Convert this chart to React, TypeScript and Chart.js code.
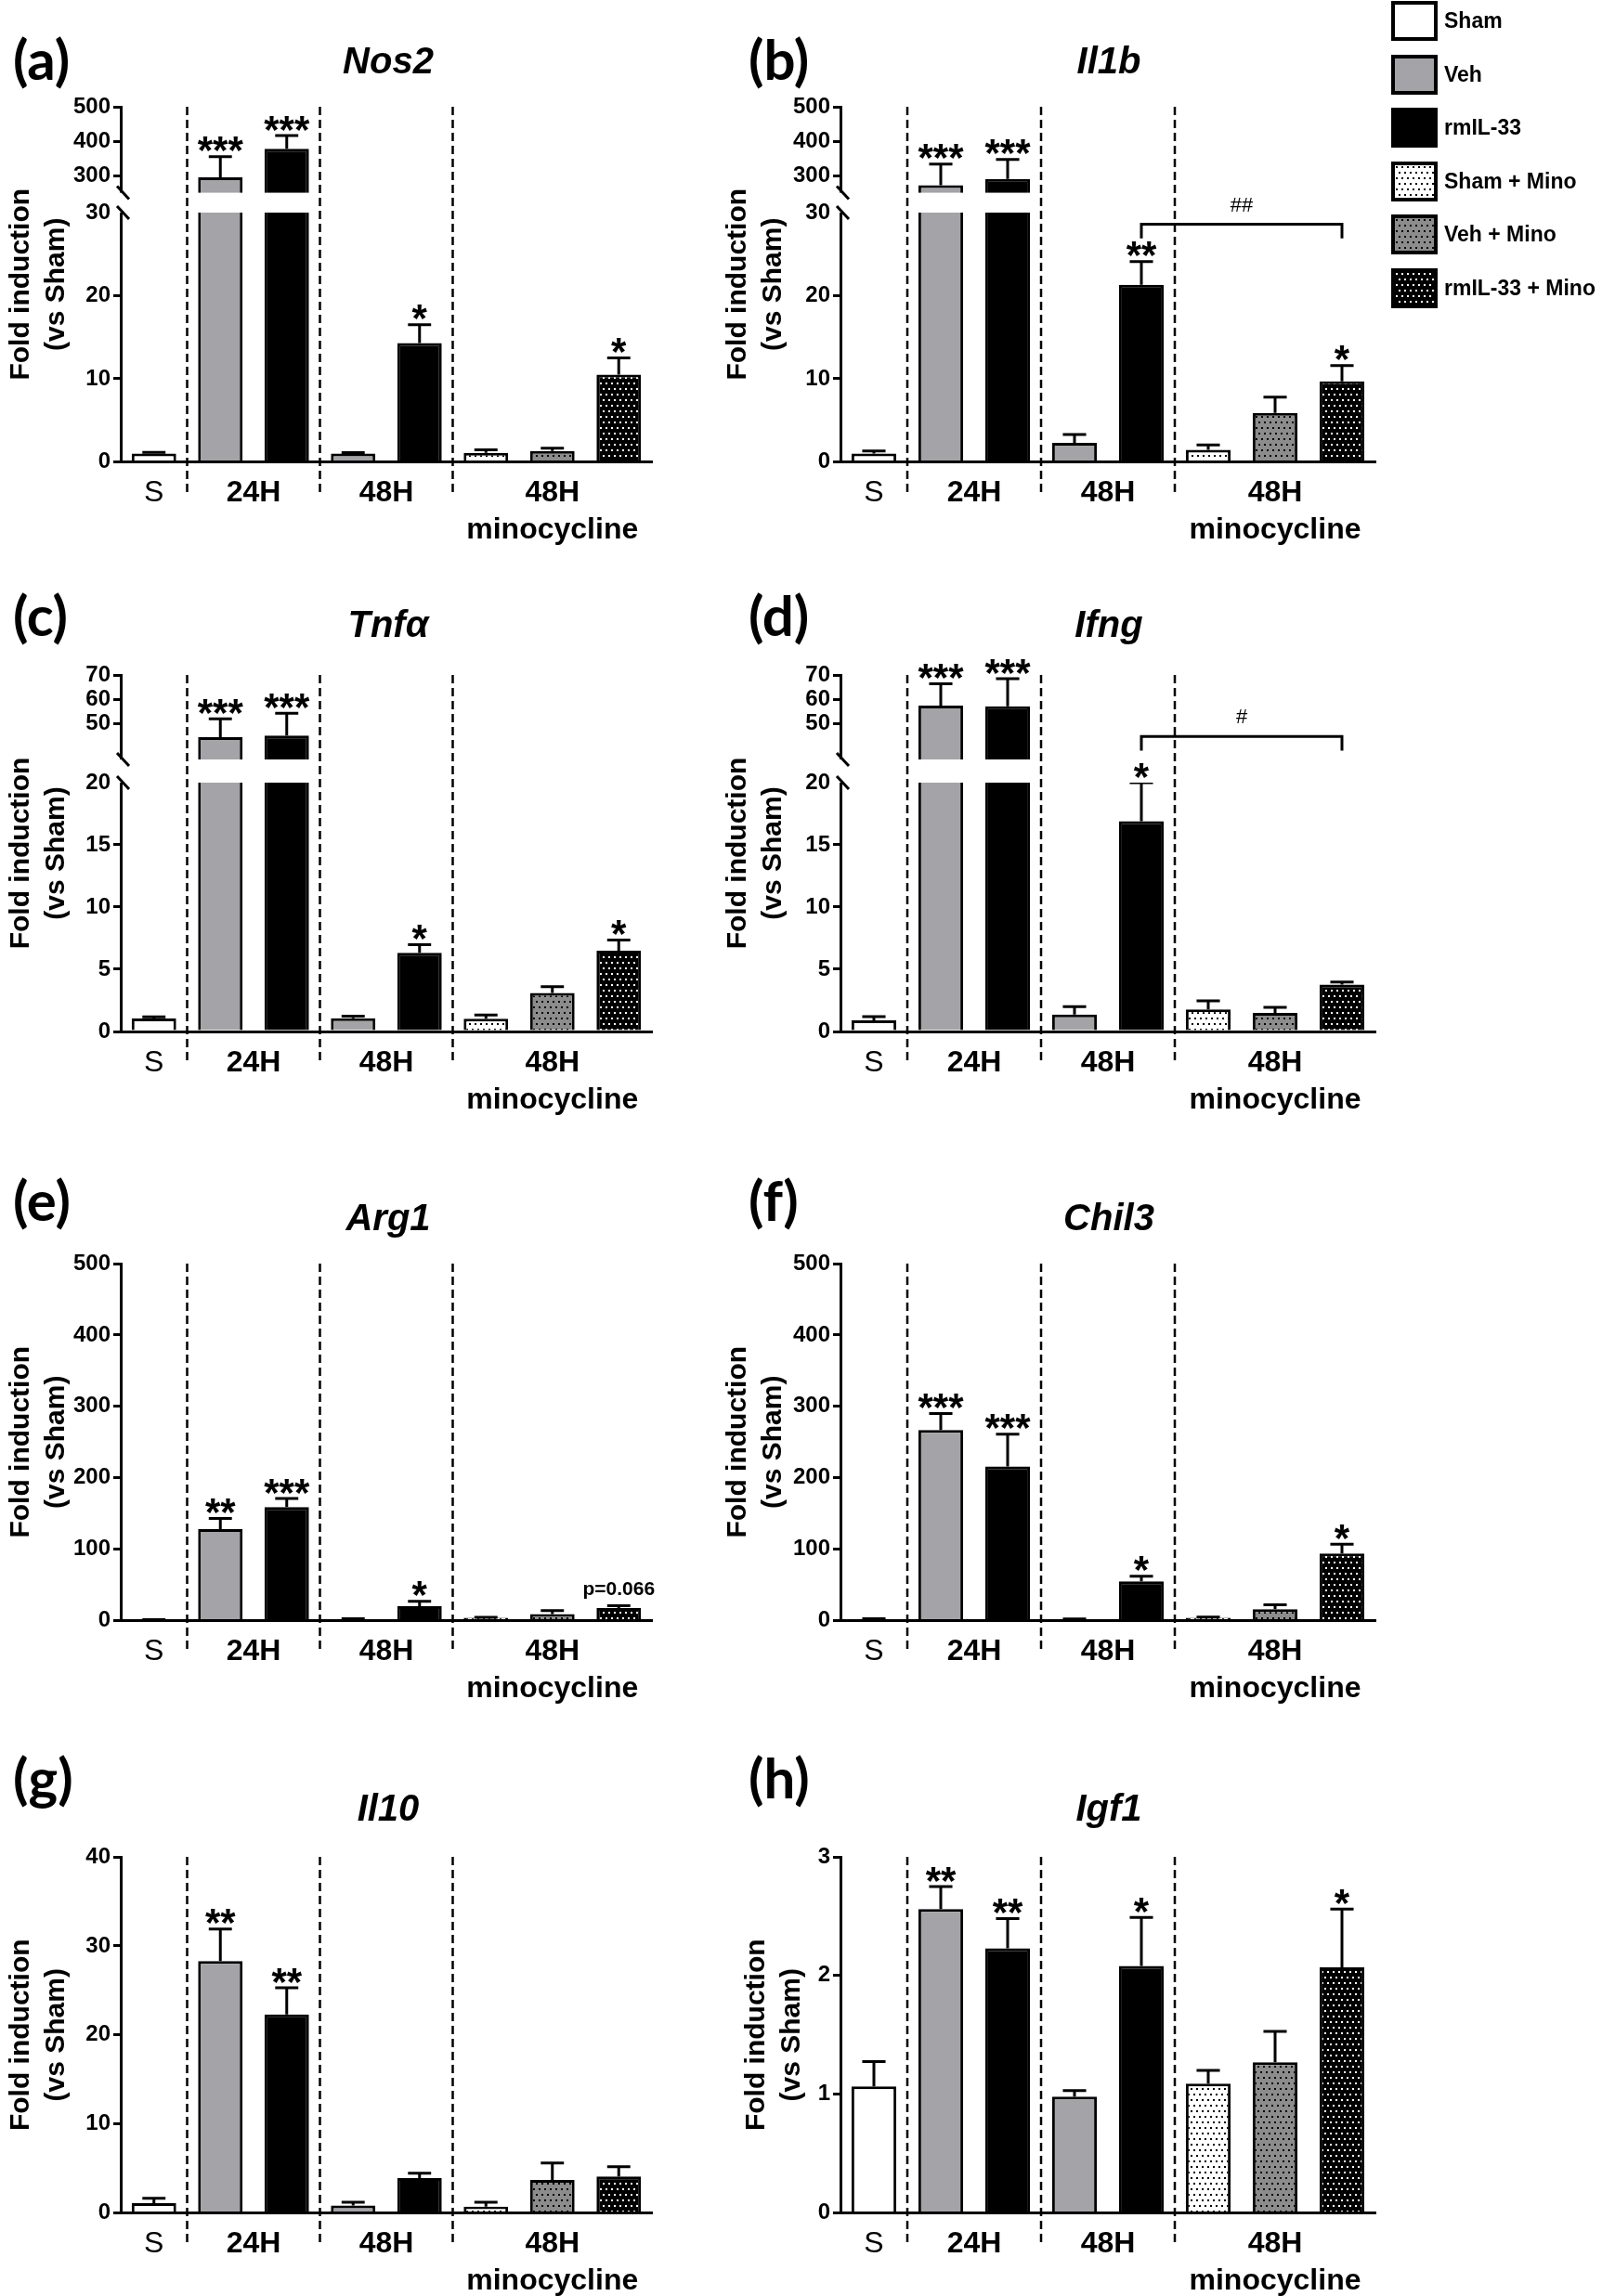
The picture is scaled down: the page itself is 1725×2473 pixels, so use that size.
import React, { useEffect, useRef } from 'react';
import { Chart, registerables, LinearScale } from 'chart.js';

Chart.register(...registerables);

const FONT = "'Liberation Sans', Arial, Helvetica, sans-serif";
Chart.defaults.font.family = FONT;
Chart.defaults.color = '#000';

// ---------------- data ----------------
const CATEGORIES = ['Sham', '24H Veh', '24H rmIL-33', '48H Veh', '48H rmIL-33', '48H Mino Sham', '48H Mino Veh', '48H Mino rmIL-33'];
const BAR_STYLE = [0, 1, 2, 1, 2, 3, 4, 5];
const LEGEND_LABELS = ['Sham', 'Veh', 'rmIL-33', 'Sham + Mino', 'Veh + Mino', 'rmIL-33 + Mino'];
const GROUP_TEXT = [['S'], ['24H'], ['48H'], ['48H', 'minocycline']];
const GROUP_FIRST = [0, 1, 3, 5];
const GROUP_LAST = [0, 2, 4, 7];
const SEPARATOR_AFTER = [0, 2, 4];
const Y_TITLE = ['Fold induction', '(vs Sham)'];

const nos2Mean = [1.0, 295, 378, 1.0, 14.3, 1.1, 1.3, 10.5];
const nos2Sem = [0.15, 60, 38, 0.12, 2.2, 0.35, 0.35, 2.0];
const nos2Sig = ['', '***', '***', '', '*', '', '', '*'];

const il1bMean = [1.0, 272, 290, 2.3, 21.3, 1.45, 5.9, 9.7];
const il1bSem = [0.3, 61, 57, 1.0, 2.8, 0.6, 1.9, 1.9];
const il1bSig = ['', '***', '***', '', '**', '', '', '*'];

const tnfMean = [1.05, 44.2, 44.9, 1.07, 6.33, 1.02, 3.1, 6.5];
const tnfSem = [0.13, 7.6, 9.2, 0.16, 0.65, 0.3, 0.5, 0.85];
const tnfSig = ['', '***', '***', '', '*', '', '', '*'];

const ifngMean = [0.9, 57.3, 57.0, 1.37, 16.9, 1.77, 1.49, 3.77];
const ifngSem = [0.3, 9, 11.5, 0.63, 3.1, 0.7, 0.45, 0.2];
const ifngSig = ['', '***', '***', '', '*', '', '', ''];

const arg1Mean = [1, 128, 159, 2, 20, 4, 9, 17.4];
const arg1Sem = [0.2, 15, 12, 0.5, 7, 0.5, 5, 3.5];
const arg1Sig = ['', '**', '***', '', '*', '', '', 'p=0.066'];

const chil3Mean = [2, 267, 216, 2, 55, 4, 16, 94];
const chil3Sem = [0.5, 23, 45, 0.3, 7, 1, 6, 13];
const chil3Sig = ['', '***', '***', '', '*', '', '', '*'];

const il10Mean = [1.1, 28.3, 22.3, 0.83, 3.9, 0.7, 3.7, 4.1];
const il10Sem = [0.55, 3.6, 3.0, 0.37, 0.55, 0.5, 1.9, 1.1];
const il10Sig = ['', '**', '**', '', '', '', '', ''];

const igf1Mean = [1.065, 2.56, 2.23, 0.98, 2.08, 1.09, 1.27, 2.07];
const igf1Sem = [0.21, 0.19, 0.25, 0.05, 0.41, 0.11, 0.26, 0.49];
const igf1Sig = ['', '**', '**', '', '*', '', '', '*'];

const ticksBroken500 = [0, 10, 20, 30, 300, 400, 500];
const ticksBroken70 = [0, 5, 10, 15, 20, 50, 60, 70];
const ticks500 = [0, 100, 200, 300, 400, 500];
const ticks40 = [0, 10, 20, 30, 40];
const ticks3 = [0, 1, 2, 3];

// break definitions (values of the two axis segments + share of the axis height)
const break500 = { lowMax: 30, highMin: 250, lowFrac: 0.702, gapFrac: 0.056 };
const break70 = { lowMax: 20, highMin: 35, lowFrac: 0.698, gapFrac: 0.065 };

// comparison brackets
const il1bBracket = { from: 4, to: 7, y: 28.6, drop: 26.9, text: '##' };
const ifngBracket = { from: 4, to: 7, y: 44.5, drop: 38.7, text: '#' };

type Brk = { lowMax: number; highMin: number; lowFrac: number; gapFrac: number };
type Bracket = { from: number; to: number; y: number; drop: number; text: string };
type Panel = {
  key: string; label: string; gene: string;
  mean: number[]; sem: number[]; sig: string[];
  ticks: number[]; max: number; brk: Brk | null; bracket?: Bracket;
  col: number; row: number; canvasLeft?: number;
};

const PANELS: Panel[] = [
  { key: 'a', label: '(a)', gene: 'Nos2', mean: nos2Mean, sem: nos2Sem, sig: nos2Sig, ticks: ticksBroken500, max: 500, brk: break500, col: 0, row: 0 },
  { key: 'b', label: '(b)', gene: 'Il1b', mean: il1bMean, sem: il1bSem, sig: il1bSig, ticks: ticksBroken500, max: 500, brk: break500, bracket: il1bBracket, col: 1, row: 0 },
  { key: 'c', label: '(c)', gene: 'Tnf\u03b1', mean: tnfMean, sem: tnfSem, sig: tnfSig, ticks: ticksBroken70, max: 70, brk: break70, col: 0, row: 1 },
  { key: 'd', label: '(d)', gene: 'Ifng', mean: ifngMean, sem: ifngSem, sig: ifngSig, ticks: ticksBroken70, max: 70, brk: break70, bracket: ifngBracket, col: 1, row: 1 },
  { key: 'e', label: '(e)', gene: 'Arg1', mean: arg1Mean, sem: arg1Sem, sig: arg1Sig, ticks: ticks500, max: 500, brk: null, col: 0, row: 2 },
  { key: 'f', label: '(f)', gene: 'Chil3', mean: chil3Mean, sem: chil3Sem, sig: chil3Sig, ticks: ticks500, max: 500, brk: null, col: 1, row: 2 },
  { key: 'g', label: '(g)', gene: 'Il10', mean: il10Mean, sem: il10Sem, sig: il10Sig, ticks: ticks40, max: 40, brk: null, col: 0, row: 3 },
  { key: 'h', label: '(h)', gene: 'Igf1', mean: igf1Mean, sem: igf1Sem, sig: igf1Sig, ticks: ticks3, max: 3, brk: null, col: 1, row: 3, canvasLeft: 792 },
];

// ---------------- layout ----------------
const COLS = [
  { canvasLeft: 0, axisX: 130, right: 702, labelX: 14, titleCX: 418 },
  { canvasLeft: 772, axisX: 905, right: 1481, labelX: 806, titleCX: 1194 },
];
const ROWS = [
  { top: 115, bottom: 497.5, labelCY: 67, titleCY: 64 },
  { top: 727, bottom: 1111, labelCY: 666, titleCY: 671 },
  { top: 1361, bottom: 1745.5, labelCY: 1296, titleCY: 1310 },
  { top: 2000, bottom: 2383.5, labelCY: 1918, titleCY: 1946 },
];
const PAD_TOP = 70;
const PAD_RIGHT = 40;
const X_AXIS_H = 100;
const BAR_PCT = 0.67;
const LABEL_FS = 60;
const STAR_FS = 42;

// ---------------- broken linear scale ----------------
class BrokenLinearScale extends (LinearScale as any) {
  static id = 'brokenLinear';
  static defaults = (LinearScale as any).defaults;
  getPixelForValue(value: any) {
    const b = (this as any).brk as Brk | null;
    if (!b || value === null || value === undefined || isNaN(value)) return super.getPixelForValue(value);
    const min = (this as any).min as number;
    const max = (this as any).max as number;
    let dec: number;
    if (value <= b.lowMax) dec = ((value - min) / (b.lowMax - min)) * b.lowFrac;
    else if (value >= b.highMin) dec = b.lowFrac + b.gapFrac + ((value - b.highMin) / (max - b.highMin)) * (1 - b.lowFrac - b.gapFrac);
    else dec = b.lowFrac + ((value - b.lowMax) / (b.highMin - b.lowMax)) * b.gapFrac;
    return (this as any).getPixelForDecimal(dec);
  }
}
Chart.register(BrokenLinearScale as any);

function dotPattern(bg: string, dot: string): any {
  const c = document.createElement('canvas');
  c.width = 6; c.height = 12;
  const g = c.getContext('2d');
  if (!g) return bg;
  g.fillStyle = bg; g.fillRect(0, 0, 6, 12);
  g.fillStyle = dot; g.fillRect(1, 1, 2, 2); g.fillRect(4, 7, 2, 2);
  return g.createPattern(c, 'repeat') || bg;
}

function decoPlugin(p: Panel) {
  return {
    id: 'deco_' + p.key,
    afterDraw(chart: any) {
      const ctx: CanvasRenderingContext2D = chart.ctx;
      const xs = chart.scales.x;
      const ys = chart.scales.y;
      const ca = chart.chartArea;
      const catW = xs.getPixelForValue(1) - xs.getPixelForValue(0);
      const capW = catW * BAR_PCT * 0.52;
      ctx.save();
      // error bars (upper whisker only)
      ctx.strokeStyle = '#000';
      ctx.lineWidth = 3;
      p.mean.forEach((m, i) => {
        const cx = xs.getPixelForValue(i);
        const y0 = ys.getPixelForValue(m);
        const y1 = ys.getPixelForValue(m + p.sem[i]);
        ctx.beginPath();
        ctx.moveTo(cx, y0); ctx.lineTo(cx, y1);
        ctx.moveTo(cx - capW / 2, y1); ctx.lineTo(cx + capW / 2, y1);
        ctx.stroke();
      });
      // axis break
      if (p.brk) {
        const yTop = ys.getPixelForValue(p.brk.highMin);
        const yBot = ys.getPixelForValue(p.brk.lowMax);
        ctx.fillStyle = '#fff';
        ctx.fillRect(ca.left - 3, yTop, ca.right - ca.left + 6, yBot - yTop);
        ctx.lineWidth = 3;
        [yTop, yBot].forEach((yy) => {
          ctx.beginPath();
          ctx.moveTo(ca.left - 4, yy - 7);
          ctx.lineTo(ca.left + 9, yy + 7);
          ctx.stroke();
        });
      }
      // dashed separators
      ctx.lineWidth = 2.5;
      ctx.setLineDash([9, 5]);
      SEPARATOR_AFTER.forEach((i) => {
        const sx = (xs.getPixelForValue(i) + xs.getPixelForValue(i + 1)) / 2;
        ctx.beginPath();
        ctx.moveTo(sx, ca.top);
        ctx.lineTo(sx, ca.bottom + 35);
        ctx.stroke();
      });
      ctx.setLineDash([]);
      // bracket
      if (p.bracket) {
        const bk = p.bracket;
        const x1 = xs.getPixelForValue(bk.from);
        const x2 = xs.getPixelForValue(bk.to);
        const yb = ys.getPixelForValue(bk.y);
        const yd = ys.getPixelForValue(bk.drop);
        ctx.lineWidth = 3;
        ctx.beginPath();
        ctx.moveTo(x1, yd); ctx.lineTo(x1, yb); ctx.lineTo(x2, yb); ctx.lineTo(x2, yd);
        ctx.stroke();
        ctx.fillStyle = '#000';
        ctx.font = `22px ${FONT}`;
        ctx.textAlign = 'center';
        ctx.textBaseline = 'middle';
        ctx.fillText(bk.text, (x1 + x2) / 2, yb - 20);
      }
      // significance marks
      ctx.fillStyle = '#000';
      ctx.textAlign = 'center';
      ctx.textBaseline = 'alphabetic';
      p.sig.forEach((s, i) => {
        if (!s) return;
        const cx = xs.getPixelForValue(i);
        const yErr = ys.getPixelForValue(p.mean[i] + p.sem[i]);
        if (s.startsWith('p')) {
          ctx.font = `bold 21px ${FONT}`;
          ctx.fillText(s, cx, yErr - 11);
        } else {
          ctx.font = `bold ${STAR_FS}px ${FONT}`;
          ctx.fillText(s, cx, yErr - 5 + STAR_FS * 0.3);
        }
      });
      // group labels under the x axis
      ctx.textBaseline = 'middle';
      GROUP_TEXT.forEach((lines, gi) => {
        const cx = (xs.getPixelForValue(GROUP_FIRST[gi]) + xs.getPixelForValue(GROUP_LAST[gi])) / 2;
        lines.forEach((t, li) => {
          ctx.font = `${t === 'S' ? '' : 'bold '}32px ${FONT}`;
          ctx.fillText(t, cx, ca.bottom + 34 + li * 40);
        });
      });
      ctx.restore();
    },
  };
}

function geom(p: Panel) {
  const col = COLS[p.col];
  const row = ROWS[p.row];
  const left = p.canvasLeft ?? col.canvasLeft;
  const top = row.top - PAD_TOP;
  const width = col.right - left + PAD_RIGHT;
  const height = row.bottom - top + X_AXIS_H;
  return { left, top, width: Math.round(width), height: Math.round(height), col, row };
}

function PanelChart({ p }: { p: Panel }) {
  const ref = useRef<HTMLCanvasElement>(null);
  const g = geom(p);
  useEffect(() => {
    const canvas = ref.current;
    if (!canvas) return;
    const fills = [
      '#ffffff',
      '#a3a3a8',
      '#000000',
      dotPattern('#ffffff', '#000000'),
      dotPattern('#8c8c8c', '#000000'),
      dotPattern('#000000', '#ffffff'),
    ];
    const yAxisWidth = g.col.axisX - g.left;
    const bottomPad = g.height - (g.row.bottom - g.top) - X_AXIS_H;
    const chart = new Chart(canvas, {
      type: 'bar',
      data: {
        labels: CATEGORIES,
        datasets: [
          {
            data: p.mean,
            backgroundColor: BAR_STYLE.map((s) => fills[s]),
            borderColor: '#000',
            borderWidth: 3,
            barPercentage: BAR_PCT,
            categoryPercentage: 1,
          } as any,
        ],
      },
      options: {
        animation: false,
        responsive: false,
        devicePixelRatio: 1,
        events: [],
        layout: { padding: { top: PAD_TOP, left: 0, right: g.width - (g.col.right - g.left), bottom: Math.max(0, bottomPad) } },
        plugins: { legend: { display: false }, tooltip: { enabled: false }, title: { display: false } },
        scales: {
          x: {
            type: 'category',
            ticks: { display: false },
            grid: { display: false },
            border: { display: true, color: '#000', width: 3, z: 1 },
            afterFit: (s: any) => { s.height = X_AXIS_H; },
          },
          y: {
            type: 'brokenLinear',
            min: 0,
            max: p.max,
            afterDataLimits: (s: any) => { s.brk = p.brk; },
            afterBuildTicks: (s: any) => { s.ticks = p.ticks.map((v) => ({ value: v })); },
            afterFit: (s: any) => { s.width = yAxisWidth; },
            ticks: {
              autoSkip: false,
              color: '#000',
              padding: 3,
              font: { size: 24, weight: 'bold' },
              callback: (v: any) => String(v),
            },
            grid: {
              drawOnChartArea: false,
              drawTicks: true,
              tickLength: 8,
              color: '#000',
              lineWidth: 3,
              tickColor: (c: any) => (p.brk && c.tick && c.tick.value === p.brk.lowMax ? 'rgba(0,0,0,0)' : '#000'),
            },
            border: { display: true, color: '#000', width: 3 },
            title: {
              display: true,
              text: Y_TITLE,
              color: '#000',
              font: { size: 30, weight: 'bold', lineHeight: 1.27 },
              padding: { top: 4, bottom: 0 },
            },
          } as any,
        },
      } as any,
      plugins: [decoPlugin(p)],
    });
    return () => chart.destroy();
  }, []);
  return (
    <canvas
      ref={ref}
      width={g.width}
      height={g.height}
      style={{ position: 'absolute', left: g.left, top: g.top, width: g.width, height: g.height }}
    />
  );
}

function dotsCss(dot: string, bg: string) {
  const layer = `radial-gradient(circle at 2px 2px, ${dot} 1px, transparent 1.5px)`;
  return `${layer} 0 0 / 6px 12px, ${layer} 3px 6px / 6px 12px, ${bg}`;
}

const LEGEND_BG = ['#ffffff', '#a3a3a8', '#000000', dotsCss('#000', '#fff'), dotsCss('#000', '#8c8c8c'), dotsCss('#fff', '#000')];
const LEGEND_TOP = [1, 59, 116, 174, 231, 289];

export default function App() {
  return (
    <div style={{ position: 'absolute', left: 0, top: 0, width: 1725, height: 2473, background: '#fff', fontFamily: FONT, color: '#000' }}>
      {PANELS.map((p) => {
        const col = COLS[p.col];
        const row = ROWS[p.row];
        return (
          <React.Fragment key={p.key}>
            <PanelChart p={p} />
            <div style={{ position: 'absolute', left: col.labelX, top: row.labelCY - LABEL_FS * 0.57, font: `bold ${LABEL_FS}px Lato, 'Liberation Sans', sans-serif`, lineHeight: `${LABEL_FS}px`, whiteSpace: 'nowrap' }}>
              {p.label}
            </div>
            <div style={{ position: 'absolute', left: col.titleCX - 150, width: 300, top: row.titleCY - 19.5, textAlign: 'center', font: `italic bold 40px ${FONT}`, lineHeight: '40px', whiteSpace: 'nowrap' }}>
              {p.gene}
            </div>
          </React.Fragment>
        );
      })}
      {LEGEND_LABELS.map((t, i) => (
        <React.Fragment key={t}>
          <div style={{ position: 'absolute', left: 1498, top: LEGEND_TOP[i], width: 50, height: 43, boxSizing: 'border-box', border: '4px solid #000', background: LEGEND_BG[i] }} />
          <div style={{ position: 'absolute', left: 1555, top: LEGEND_TOP[i], height: 43, display: 'flex', alignItems: 'center', font: `bold 23px ${FONT}`, whiteSpace: 'nowrap' }}>
            {t}
          </div>
        </React.Fragment>
      ))}
    </div>
  );
}
